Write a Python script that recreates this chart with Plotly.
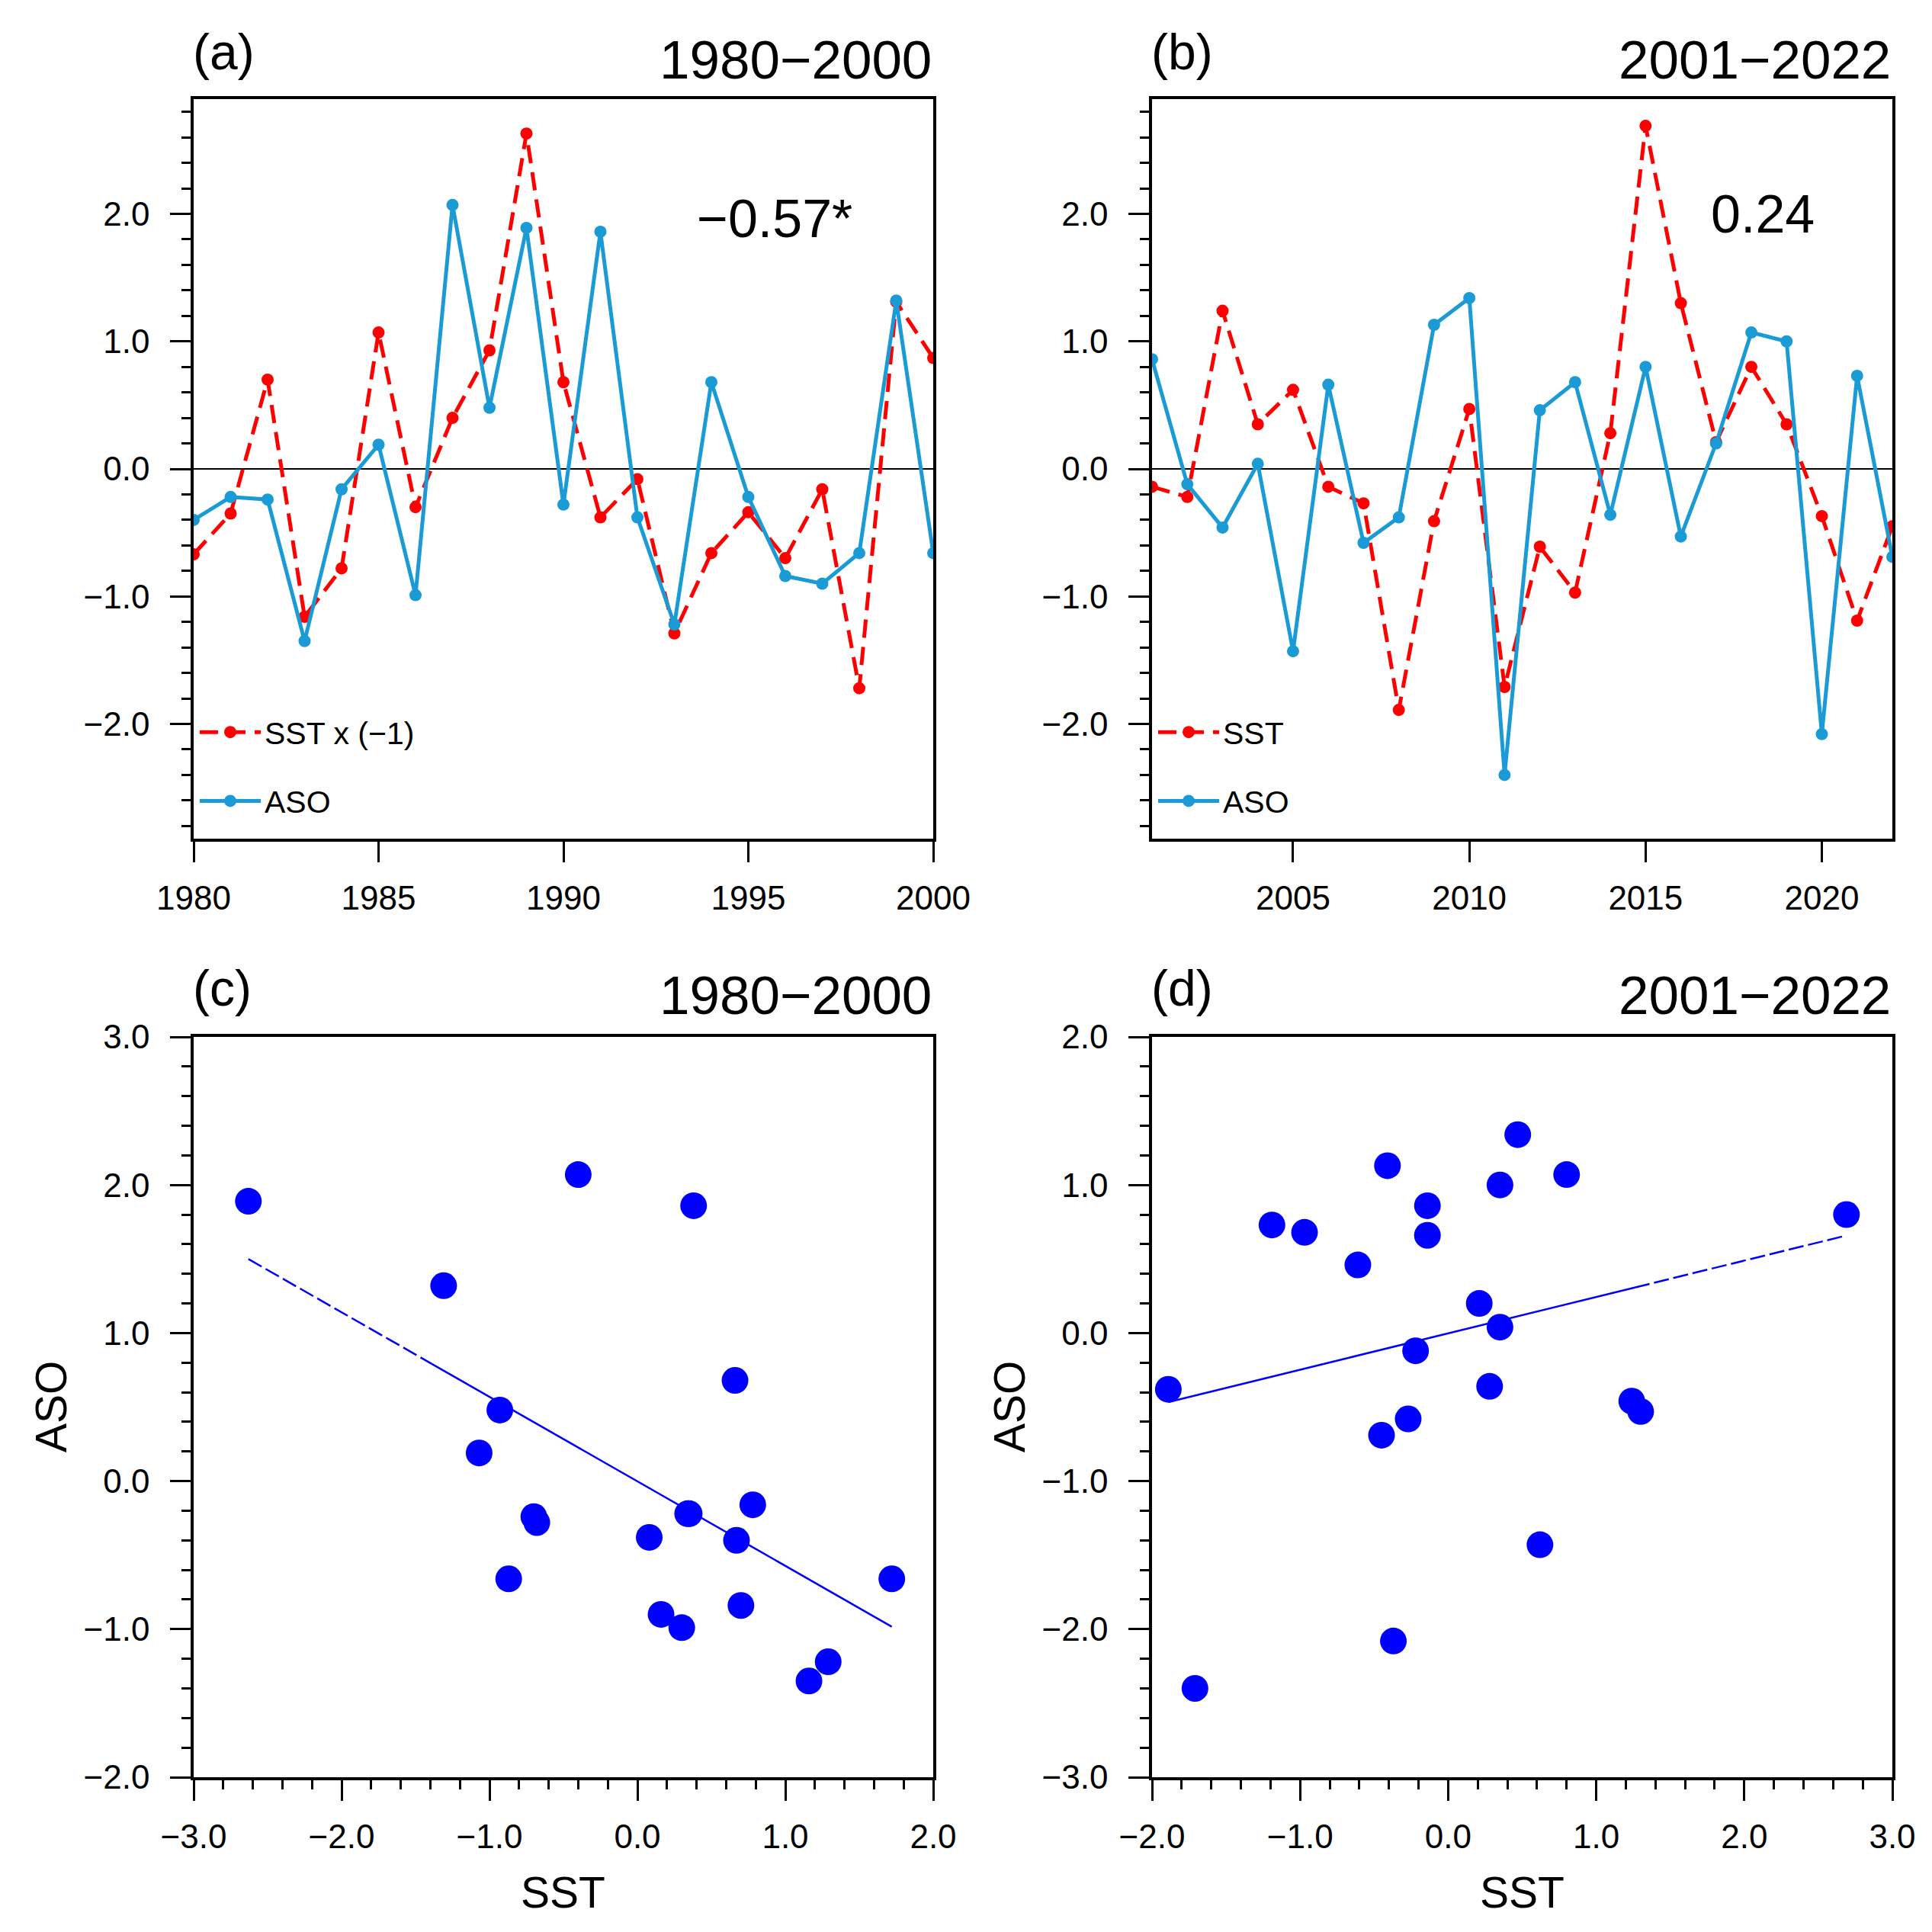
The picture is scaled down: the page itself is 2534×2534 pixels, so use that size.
import numpy as np
import plotly.graph_objects as go

W = H = 2534

# ---- data ----
years_p1 = list(range(1980, 2001))
sst_neg_p1 = [-0.67, -0.35, 0.70, -1.16, -0.78, 1.07, -0.30, 0.40, 0.93, 2.63, 0.68,
              -0.38, -0.08, -1.29, -0.66, -0.34, -0.70, -0.16, -1.72, 1.31, 0.87]   # SST x (-1)
aso_p1 = [-0.40, -0.22, -0.24, -1.35, -0.16, 0.19, -0.99, 2.07, 0.48, 1.89, -0.28,
          1.86, -0.38, -1.22, 0.68, -0.22, -0.84, -0.90, -0.66, 1.32, -0.66]

years_p2 = list(range(2001, 2023))
sst_p2 = [-0.14, -0.22, 1.24, 0.35, 0.62, -0.14, -0.27, -1.89, -0.41, 0.47, -1.71,
          -0.61, -0.97, 0.28, 2.69, 1.30, 0.21, 0.80, 0.35, -0.37, -1.19, -0.45]
aso_p2 = [0.86, -0.12, -0.46, 0.04, -1.43, 0.66, -0.58, -0.38, 1.13, 1.34, -2.40,
          0.46, 0.68, -0.36, 0.80, -0.53, 0.20, 1.07, 1.00, -2.08, 0.73, -0.69]

sst_p1 = [-v for v in sst_neg_p1]   # scatter (c) uses SST itself

corr_labels = ["\u22120.57*", "0.24"]
period_labels = ["1980\u22122000", "2001\u22122022"]

# style constants
FONT = "Liberation Sans, Arial, Helvetica, sans-serif"
RED = "#ff0000"
CYAN = "#1a9bd6"
BLUE = "#0000ff"
FIT_BREAK_C = -1.39   # fit line in (c) dashed left of this
FIT_BREAK_D = 1.26    # fit line in (d) dashed right of this


def px_x(x):
    return x / W


def px_y(y):
    return 1 - y / H


dom_left = [px_x(246), px_x(1216)]
dom_right = [px_x(1503), px_x(2474)]
dom_top = [px_y(1092), px_y(122)]
dom_bot = [px_y(2323), px_y(1352)]

fig = go.Figure()

# (a)
fig.add_trace(go.Scatter(x=years_p1, y=sst_neg_p1, mode="lines+markers", name="SST x (\u22121)",
                         line=dict(color=RED, width=5, dash="24px,12px"),
                         marker=dict(color=RED, size=16), xaxis="x", yaxis="y",
                         legend="legend", legendgroup="a1"))
fig.add_trace(go.Scatter(x=years_p1, y=aso_p1, mode="lines+markers", name="ASO",
                         line=dict(color=CYAN, width=5),
                         marker=dict(color=CYAN, size=16), xaxis="x", yaxis="y",
                         legend="legend", legendgroup="a2"))
# (b)
fig.add_trace(go.Scatter(x=years_p2, y=sst_p2, mode="lines+markers", name="SST",
                         line=dict(color=RED, width=5, dash="24px,12px"),
                         marker=dict(color=RED, size=16), xaxis="x2", yaxis="y2",
                         legend="legend2", legendgroup="b1"))
fig.add_trace(go.Scatter(x=years_p2, y=aso_p2, mode="lines+markers", name="ASO",
                         line=dict(color=CYAN, width=5),
                         marker=dict(color=CYAN, size=16), xaxis="x2", yaxis="y2",
                         legend="legend2", legendgroup="b2"))

# (c) and (d) scatter + fit
for sx, sy, xa, ya, brk, dash_left in [(sst_p1, aso_p1, "x3", "y3", FIT_BREAK_C, True),
                                       (sst_p2, aso_p2, "x4", "y4", FIT_BREAK_D, False)]:
    k, b = np.polyfit(sx, sy, 1)
    x0, x1 = min(sx), max(sx)
    seg_l = np.array([x0, brk])
    seg_r = np.array([brk, x1])
    fig.add_trace(go.Scatter(x=seg_l, y=k * seg_l + b, mode="lines", showlegend=False,
                             line=dict(color=BLUE, width=2.5, dash="20px,6px" if dash_left else "solid"),
                             xaxis=xa, yaxis=ya))
    fig.add_trace(go.Scatter(x=seg_r, y=k * seg_r + b, mode="lines", showlegend=False,
                             line=dict(color=BLUE, width=2.5, dash="solid" if dash_left else "20px,6px"),
                             xaxis=xa, yaxis=ya))
    fig.add_trace(go.Scatter(x=sx, y=sy, mode="markers", showlegend=False,
                             marker=dict(color=BLUE, size=35, line=dict(width=0)),
                             xaxis=xa, yaxis=ya))

axis_common = dict(showline=True, linecolor="black", linewidth=3.5, mirror=True,
                   ticks="outside", ticklen=27, tickwidth=3, tickcolor="black",
                   showgrid=False, tickfont=dict(family=FONT, size=44, color="black"),
                   tickformat=".1f", automargin=False)
xax = dict(axis_common, ticklabelstandoff=9)
yax = dict(axis_common, ticklabelstandoff=18)
minor_y = dict(dtick=0.2, tick0=0, ticks="outside", ticklen=12, tickwidth=2.5,
               tickcolor="black", showgrid=False)

fig.update_layout(
    width=W, height=H, margin=dict(l=0, r=0, t=0, b=0, autoexpand=False),
    paper_bgcolor="white", plot_bgcolor="white",
    font=dict(family=FONT, color="black"),
    xaxis=dict(xax, domain=dom_left, anchor="y", range=[1980, 2000],
               tick0=1980, dtick=5, tickformat="d", zeroline=False),
    yaxis=dict(yax, domain=dom_top, anchor="x", range=[-2.9, 2.9],
               tick0=0, dtick=1, minor=minor_y, zeroline=True, zerolinecolor="black",
               zerolinewidth=2),
    xaxis2=dict(xax, domain=dom_right, anchor="y2", range=[2001, 2022],
                tick0=2005, dtick=5, tickformat="d", zeroline=False),
    yaxis2=dict(yax, domain=dom_top, anchor="x2", range=[-2.9, 2.9],
                tick0=0, dtick=1, minor=minor_y, zeroline=True, zerolinecolor="black",
                zerolinewidth=2),
    xaxis3=dict(xax, domain=dom_left, anchor="y3", range=[-3, 2],
                tick0=0, dtick=1, minor=minor_y, zeroline=False),
    yaxis3=dict(yax, domain=dom_bot, anchor="x3", range=[-2, 3],
                tick0=0, dtick=1, minor=minor_y, zeroline=False),
    xaxis4=dict(xax, domain=dom_right, anchor="y4", range=[-2, 3],
                tick0=0, dtick=1, minor=minor_y, zeroline=False),
    yaxis4=dict(yax, domain=dom_bot, anchor="x4", range=[-3, 2],
                tick0=0, dtick=1, minor=minor_y, zeroline=False),
    legend=dict(x=px_x(249), y=px_y(919), xanchor="left", yanchor="top",
                bgcolor="rgba(0,0,0,0)", font=dict(family=FONT, size=41, color="black"),
                tracegroupgap=34, itemwidth=80),
    legend2=dict(x=px_x(1506), y=px_y(919), xanchor="left", yanchor="top",
                 bgcolor="rgba(0,0,0,0)", font=dict(family=FONT, size=41, color="black"),
                 tracegroupgap=34, itemwidth=80),
)

ann = []
panel_letters = [("(a)", 243, 60), ("(b)", 1500, 60), ("(c)", 243, 1288), ("(d)", 1500, 1288)]
for txt, x, y in panel_letters:
    ann.append(dict(text=txt, x=px_x(x), y=px_y(y), xref="paper", yref="paper",
                    xanchor="left", yanchor="middle", showarrow=False,
                    font=dict(family=FONT, size=66, color="black")))
for txt, x, y in [(period_labels[0], 1216, 70), (period_labels[1], 2474, 70),
                  (period_labels[0], 1216, 1297), (period_labels[1], 2474, 1297)]:
    ann.append(dict(text=txt, x=px_x(x), y=px_y(y), xref="paper", yref="paper",
                    xanchor="right", yanchor="middle", showarrow=False,
                    font=dict(family=FONT, size=71, color="black")))
for txt, x, y in [(corr_labels[0], 1008, 279), (corr_labels[1], 2304, 273)]:
    ann.append(dict(text=txt, x=px_x(x), y=px_y(y), xref="paper", yref="paper",
                    xanchor="center", yanchor="middle", showarrow=False,
                    font=dict(family=FONT, size=70, color="black")))
for x in (59, 1316):
    ann.append(dict(text="ASO", x=px_x(x), y=px_y(1837), xref="paper", yref="paper",
                    textangle=-90, xanchor="center", yanchor="middle", showarrow=False,
                    font=dict(family=FONT, size=57, color="black")))
for x in (731, 1988):
    ann.append(dict(text="SST", x=px_x(x), y=px_y(2474), xref="paper", yref="paper",
                    xanchor="center", yanchor="middle", showarrow=False,
                    font=dict(family=FONT, size=57, color="black")))
fig.update_layout(annotations=ann)

fig.write_html("out.html")
